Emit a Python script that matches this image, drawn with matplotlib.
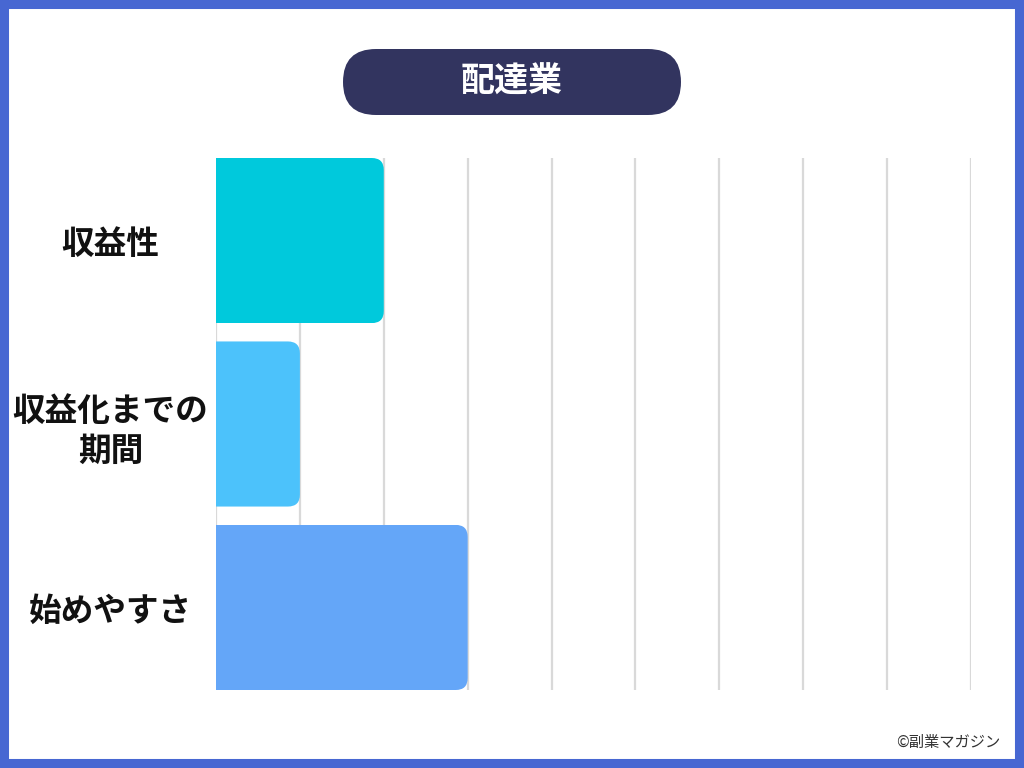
import matplotlib.pyplot as plt
from matplotlib.patches import FancyBboxPatch, Rectangle
from matplotlib.transforms import IdentityTransform

plt.rcParams['font.family'] = ['Noto Sans CJK JP', 'DejaVu Sans']

title = "配達業"
categories = ["収益性", "収益化までの\n期間", "始めやすさ"]
values = [2, 1, 3]
bar_colors = ["#00c9dc", "#4cc2fb", "#64a6f8"]
x_max = 9
credit = "©副業マガジン"

fig = plt.figure(figsize=(10.24, 7.68), dpi=100)
fig.patch.set_facecolor("white")

# plot area in pixels: x 216..971, y 158..690 (from top)
ax = fig.add_axes([216 / 1024, 1 - 690 / 768, (971 - 216) / 1024, (690 - 158) / 768])

bars = ax.barh(range(len(categories)), values, height=0.9, color=bar_colors, zorder=3)

ax.set_xlim(0, x_max)
ax.set_ylim(len(categories) - 0.55, -0.45)

# round only the right corners: clip each bar with a rounded box that sticks out on the left
px_x = (971 - 216) / x_max
px_y = (690 - 158) / (len(categories) - 0.1)
aspect = px_x / px_y
for b in bars:
    clip = FancyBboxPatch((b.get_x() - 1, b.get_y()), b.get_width() + 1, b.get_height(),
                          boxstyle="round,pad=0,rounding_size=%f" % (12 / px_x),
                          mutation_aspect=aspect, transform=ax.transData,
                          facecolor="none", edgecolor="none")
    b.set_clip_path(clip)

ax.set_xticks(range(0, x_max + 1))
ax.grid(axis="x", color="#d9d9d9", linewidth=1.6, zorder=0)
ax.tick_params(axis="x", length=0, labelbottom=False)
ax.set_yticks(range(len(categories)))
ax.set_yticklabels(categories, fontsize=23.5, fontweight="bold", ha="center",
                   multialignment="center", color="#111111", linespacing=1.3)
ax.tick_params(axis="y", length=0, pad=76)
for s in ax.spines.values():
    s.set_visible(False)

# title pill
pill = FancyBboxPatch((343, 768 - 115), 338, 66, boxstyle="round,pad=0,rounding_size=33",
                      transform=IdentityTransform(), facecolor="#32345f", edgecolor="none")
fig.patches.append(pill)
fig.text(512 / 1024, 1 - 81 / 768, title, ha="center", va="center",
         fontsize=24.5, fontweight="bold", color="white")

fig.text(1000 / 1024, 1 - 742 / 768, credit, ha="right", va="center",
         fontsize=11, color="#333333")

# blue frame
fig.patches.append(Rectangle((0, 0), 1, 1, transform=fig.transFigure, fill=False,
                             edgecolor="#4767d2", linewidth=13))

fig.savefig("out.png", dpi=100)
